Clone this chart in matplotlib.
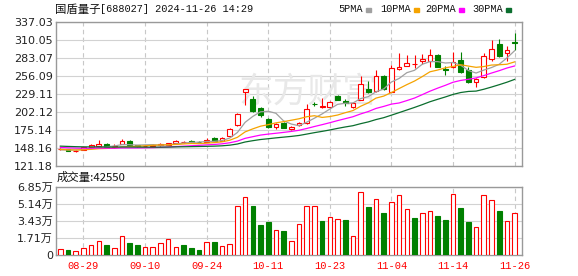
import numpy as np
import pandas as pd
import matplotlib
matplotlib.use('Agg')
import matplotlib.pyplot as plt
from matplotlib.patches import Rectangle

# trading days shown in the chart
dates = ['08-26', '08-27', '08-28', '08-29', '08-30',
         '09-02', '09-03', '09-04', '09-05', '09-06',
         '09-09', '09-10', '09-11', '09-12', '09-13',
         '09-18', '09-19', '09-20', '09-23', '09-24',
         '09-25', '09-26', '09-27', '09-30', '10-08',
         '10-09', '10-10', '10-11', '10-14', '10-15',
         '10-16', '10-17', '10-18', '10-21', '10-22',
         '10-23', '10-24', '10-25', '10-28', '10-29',
         '10-30', '10-31', '11-01', '11-04', '11-05',
         '11-06', '11-07', '11-08', '11-11', '11-12',
         '11-13', '11-14', '11-15', '11-18', '11-19',
         '11-20', '11-21', '11-22', '11-25', '11-26']

open_ = [145.5, 145.5, 143.0, 145.0, 149.0, 150.7, 153.7, 149.5, 154.2, 158.6,
         151.5, 150.2, 151.0, 151.7, 152.5, 154.7, 156.5, 158.0, 157.0, 156.7,
         163.2, 158.7, 165.7, 182.2, 232.1, 221.1, 207.2, 191.2, 179.7, 185.7,
         175.7, 181.7, 184.7, 214.2, 209.2, 209.7, 225.7, 218.2, 209.7, 219.7,
         236.1, 233.6, 255.6, 232.2, 265.6, 271.1, 273.1, 277.6, 278.6, 287.1,
         265.6, 269.6, 279.6, 264.6, 247.1, 254.6, 280.6, 303.1, 290.6, 306.1]
high = [147.0, 146.0, 144.5, 149.5, 153.0, 159.7, 155.0, 153.5, 160.5, 160.0,
        152.5, 151.5, 153.0, 155.0, 155.7, 159.5, 158.7, 159.0, 158.7, 162.0,
        164.0, 164.0, 178.2, 200.7, 236.5, 225.6, 209.7, 193.0, 184.5, 187.0,
        181.0, 187.0, 213.2, 217.2, 222.2, 218.0, 227.0, 220.7, 216.0, 255.6,
        248.1, 264.6, 257.0, 272.1, 289.6, 287.1, 287.1, 288.1, 295.6, 288.0,
        271.1, 291.1, 291.1, 268.6, 252.5, 290.6, 309.6, 310.6, 300.6, 319.6]
low = [145.0, 143.0, 141.3, 144.5, 148.5, 150.0, 148.0, 148.0, 153.5, 152.0,
       149.5, 149.0, 150.5, 151.0, 152.0, 154.0, 155.7, 155.5, 155.7, 156.0,
       158.0, 158.0, 164.0, 180.0, 212.2, 202.0, 194.7, 178.0, 175.7, 177.0,
       174.5, 180.5, 184.0, 210.7, 207.2, 209.0, 219.0, 210.7, 208.0, 219.0,
       229.7, 232.0, 235.0, 231.0, 264.0, 270.0, 267.1, 273.6, 269.6, 268.5,
       257.1, 268.0, 260.0, 244.6, 238.6, 253.0, 278.0, 284.6, 278.6, 294.6]
close = [146.5, 143.5, 143.8, 148.8, 152.2, 153.7, 148.8, 150.5, 158.2, 152.2,
         150.5, 151.0, 151.7, 154.2, 154.7, 157.7, 157.2, 156.8, 156.2, 159.7,
         158.7, 162.7, 175.7, 198.2, 235.6, 203.2, 197.2, 179.7, 183.2, 178.2,
         179.7, 184.7, 206.2, 213.2, 210.2, 216.2, 219.7, 214.7, 215.0, 243.2,
         231.2, 255.6, 236.1, 267.1, 269.6, 274.6, 273.6, 281.1, 287.1, 269.6,
         264.1, 277.1, 261.1, 247.1, 251.1, 286.1, 296.1, 285.6, 294.6, 305.1]
# volume in 万
volume = [0.56, 0.49, 0.40, 0.69, 0.99, 1.45, 0.99, 0.69, 1.88, 1.19,
          0.99, 0.79, 0.79, 1.19, 1.65, 0.76, 0.99, 0.69, 0.49, 1.29,
          1.29, 0.89, 1.09, 4.95, 5.84, 4.95, 3.00, 3.26, 2.54, 2.37,
          1.38, 3.07, 4.95, 4.95, 3.36, 3.86, 3.66, 3.56, 1.88, 6.33,
          4.85, 5.64, 4.25, 5.34, 6.03, 4.65, 3.76, 4.25, 4.45, 3.96,
          3.56, 6.13, 4.75, 3.26, 2.77, 6.03, 5.54, 4.45, 3.46, 4.255]
# closes before the window, needed for the moving averages
prior_close = [156, 155, 157, 154, 153, 155, 154, 152, 155, 154,
               153, 152, 154, 151, 150, 152, 151, 150, 152, 150,
               148, 147, 146, 145, 144, 145, 144, 145, 144.5]

price_ticks = [121.18, 148.16, 175.14, 202.12, 229.11, 256.09, 283.07, 310.05, 337.03]
price_labels = ['121.18', '148.16', '175.14', '202.12', '229.11', '256.09', '283.07', '310.05', '337.03']
vol_ticks = [0, 1.71, 3.43, 5.14, 6.85]
vol_labels = ['0', '1.71万', '3.43万', '5.14万', '6.85万']
date_ticks = ['08-29', '09-10', '09-24', '10-11', '10-23', '11-04', '11-14', '11-26']
ma_periods = [5, 10, 20, 30]
ma_names = ['5PMA', '10PMA', '20PMA', '30PMA']
ma_colors = ['#a0a0a0', '#f5a300', '#ff00ff', '#0b6e2e']

RED = '#ff0000'
GREEN = '#008000'
W, H = 578, 276

o = np.array(open_)
c = np.array(close)
x = np.arange(len(dates))
up = c >= o
cl = np.where(up, RED, GREEN)
face = np.where(up, 'white', GREEN)

fig = plt.figure(figsize=(W / 100, H / 100), dpi=100)
ax = fig.add_axes([55.7 / W, 110.3 / H, 466.3 / W, 144 / H])
axv = fig.add_axes([55.7 / W, 21 / H, 466.3 / W, 68.3 / H])

# watermark
ax.text(308 / W, 1 - 92 / H, '东方财富', transform=fig.transFigure, ha='center', va='center',
        fontsize=25, family='Noto Sans CJK SC', color='#e8e8e8', zorder=0.6)

# candles
ax.vlines(x, low, high, colors=cl, lw=0.8, zorder=3)
body = np.maximum(np.abs(c - o), 0.4)
ax.bar(x, body, bottom=np.minimum(o, c), width=0.62, color=face, edgecolor=cl, lw=0.8, zorder=4)

# moving averages
allc = pd.Series(prior_close + close)
n = len(close)
for p, col in zip(ma_periods, ma_colors):
    ma = allc.rolling(p).mean().values[-n:]
    ax.plot(x, ma, color=col, lw=0.9, zorder=5)

# volume, coloured by change against previous close
prev = np.array([prior_close[-1]] + close[:-1])
vup = c >= prev
axv.bar(x, volume, width=0.6, color=np.where(vup, 'white', GREEN),
        edgecolor=np.where(vup, RED, GREEN), lw=0.8, zorder=3)

tick_idx = [dates.index(d) for d in date_ticks]
for a in (ax, axv):
    a.set_xlim(-0.6, 59.96)
    a.set_xticks(tick_idx)
    a.set_axisbelow(True)
    a.grid(axis='x', color='#c8c8c8', ls=(0, (4, 3)), lw=0.8)
    a.grid(axis='y', color='#d2d2d2', ls='-', lw=0.8)
    for s in a.spines.values():
        s.set_color('#999999')
        s.set_linewidth(1)
    a.tick_params(length=0, labelsize=8, labelcolor='#222222', pad=2)

ax.set_ylim(121.18, 337.03)
ax.set_yticks(price_ticks)
ax.set_yticklabels(price_labels)
ax.set_xticklabels([])

axv.set_ylim(0, 6.85)
axv.set_yticks(vol_ticks)
axv.set_yticklabels(vol_labels, family=['DejaVu Sans', 'Noto Sans CJK SC'])
axv.set_xticklabels(date_ticks, family='Liberation Mono', fontsize=7.5, color=RED)
axv.tick_params(axis='x', pad=4)

# header
fig.text(55 / W, 1 - 9.5 / H, '国盾量子', family='Noto Sans CJK SC', fontsize=8.2, va='center', color='#111111')
fig.text(100 / W, 1 - 9.5 / H, '[688027] 2024-11-26 14:29', family='Liberation Mono', fontsize=7.4,
         va='center', color='#111111')
leg_x = [338, 380, 425, 472]
for lx, name, col in zip(leg_x, ma_names, ma_colors):
    t = fig.text(lx / W, 1 - 9.5 / H, name, family='Liberation Mono', fontsize=7.4, va='center', color='#111111')
    sx = lx + 6.2 * len(name) + 3
    fig.patches.append(Rectangle((sx / W, 1 - 11.5 / H), 5 / W, 4 / H, transform=fig.transFigure,
                                 color=col, figure=fig))

fig.text(57 / W, 1 - 177.5 / H, '成交量:42550', family='Noto Sans CJK SC', fontsize=8.2, va='center',
         color='#111111')

fig.savefig('out.png', dpi=100)
